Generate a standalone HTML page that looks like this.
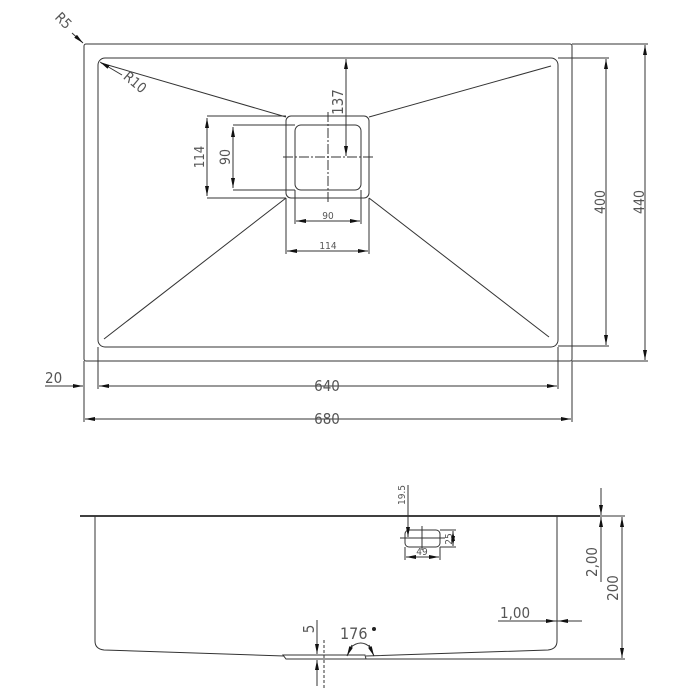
<!DOCTYPE html>
<html><head><meta charset="utf-8"><style>
html,body{margin:0;padding:0;background:#fff;}
svg{display:block;}
text{font-family:"DejaVu Sans Condensed","Liberation Sans Narrow","Liberation Sans",sans-serif;fill:#555;font-weight:200;}
</style></head><body>
<svg width="700" height="700" viewBox="0 0 700 700" xmlns="http://www.w3.org/2000/svg">
<defs>
<marker id="a" viewBox="0 0 10 4" refX="10" refY="2" markerWidth="10" markerHeight="4" markerUnits="userSpaceOnUse" orient="auto-start-reverse"><path d="M0,0L10,2L0,4z" fill="#111"/></marker>
</defs>
<g stroke="#333" stroke-width="1" fill="none">
<rect x="84" y="44" width="488" height="317" rx="2"/>
<rect x="98" y="58" width="460" height="289" rx="7"/>
<rect x="286" y="116" width="83" height="82" rx="5"/>
<rect x="295" y="125" width="66" height="65" rx="6"/>
<line x1="101" y1="63" x2="286" y2="117"/>
<line x1="551" y1="66" x2="369" y2="117"/>
<line x1="104" y1="339" x2="286" y2="198"/>
<line x1="549" y1="337" x2="369" y2="198"/>
<line x1="328" y1="112" x2="328" y2="202" stroke-dasharray="10,2,2,2"/>
<line x1="283" y1="157" x2="373" y2="157" stroke-dasharray="10,2,2,2"/>
<line x1="207" y1="116" x2="286" y2="116"/><line x1="207" y1="198" x2="286" y2="198"/>
<line x1="207" y1="118" x2="207" y2="196" marker-start="url(#a)" marker-end="url(#a)"/>
<line x1="233" y1="125" x2="295" y2="125"/><line x1="233" y1="190" x2="295" y2="190"/>
<line x1="233" y1="127" x2="233" y2="188" marker-start="url(#a)" marker-end="url(#a)"/>
<line x1="295" y1="190" x2="295" y2="224"/><line x1="361" y1="190" x2="361" y2="224"/>
<line x1="296" y1="221" x2="360" y2="221" marker-start="url(#a)" marker-end="url(#a)"/>
<line x1="286" y1="198" x2="286" y2="254"/><line x1="369" y1="198" x2="369" y2="254"/>
<line x1="287" y1="251" x2="368" y2="251" marker-start="url(#a)" marker-end="url(#a)"/>
<line x1="346" y1="59" x2="346" y2="156" marker-start="url(#a)" marker-end="url(#a)"/>
<line x1="558" y1="58" x2="609" y2="58"/><line x1="558" y1="346" x2="609" y2="346"/>
<line x1="606" y1="59" x2="606" y2="345" marker-start="url(#a)" marker-end="url(#a)"/>
<line x1="572" y1="44" x2="648" y2="44"/><line x1="572" y1="361" x2="648" y2="361"/>
<line x1="645" y1="45" x2="645" y2="360" marker-start="url(#a)" marker-end="url(#a)"/>
<line x1="84" y1="361" x2="84" y2="422"/><line x1="572" y1="361" x2="572" y2="422"/>
<line x1="98" y1="347" x2="98" y2="389"/><line x1="558" y1="347" x2="558" y2="389"/>
<line x1="99" y1="386" x2="557" y2="386" marker-start="url(#a)" marker-end="url(#a)"/>
<line x1="85" y1="419" x2="571" y2="419" marker-start="url(#a)" marker-end="url(#a)"/>
<line x1="45" y1="386" x2="83" y2="386" marker-end="url(#a)"/>
<line x1="72" y1="33" x2="83" y2="43" marker-end="url(#a)"/>
<line x1="122" y1="75" x2="100" y2="62" marker-end="url(#a)"/>
<line x1="80" y1="516" x2="600" y2="516" stroke="#000" stroke-width="1.5"/>
<path d="M95,516 V641 Q95,649 104,650 L284,656 M557,516 V641 Q557,649 548,650 L366,656"/>
<path d="M283,655 H365 L366,659 H286 Z"/>
<line x1="366" y1="659" x2="625" y2="659"/>
<line x1="600" y1="516" x2="625" y2="516"/>
<line x1="622" y1="517" x2="622" y2="658" marker-start="url(#a)" marker-end="url(#a)"/>
<line x1="601" y1="488" x2="601" y2="515" marker-end="url(#a)"/>
<line x1="601" y1="540" x2="601" y2="517" marker-end="url(#a)"/>
<line x1="601" y1="540" x2="601" y2="582"/>
<line x1="498" y1="621" x2="582" y2="621"/>
<line x1="543" y1="621" x2="556" y2="621" marker-end="url(#a)"/>
<line x1="572" y1="621" x2="558" y2="621" marker-end="url(#a)"/>
<rect x="405" y="530" width="35" height="17" rx="4"/>
<line x1="408" y1="485" x2="408" y2="537" marker-end="url(#a)"/>
<line x1="400" y1="538" x2="445" y2="538"/><line x1="422" y1="526" x2="422" y2="550"/>
<line x1="440" y1="530" x2="456" y2="530"/><line x1="440" y1="547" x2="456" y2="547"/>
<line x1="453" y1="531" x2="453" y2="546" marker-start="url(#a)" marker-end="url(#a)"/>
<line x1="405" y1="547" x2="405" y2="560"/><line x1="440" y1="547" x2="440" y2="560"/>
<line x1="406" y1="557" x2="439" y2="557" marker-start="url(#a)" marker-end="url(#a)"/>
<line x1="317" y1="620" x2="317" y2="654" marker-end="url(#a)"/>
<line x1="317" y1="686" x2="317" y2="660" marker-end="url(#a)"/>
<line x1="324" y1="640" x2="324" y2="690" stroke-dasharray="3,2"/>
<path d="M350,648 Q361,638 371,648"/>
<line x1="352" y1="645" x2="347" y2="656" marker-end="url(#a)"/>
<line x1="369" y1="645" x2="374" y2="656" marker-end="url(#a)"/>
</g>
<g font-size="13">
<text x="327" y="391" text-anchor="middle" font-size="15">640</text>
<text x="327" y="424" text-anchor="middle" font-size="15">680</text>
<text x="45" y="383" font-size="15">20</text>
<line x1="45" y1="386" x2="62" y2="386" stroke="#333"/>
<text transform="translate(204,157) rotate(-90)" text-anchor="middle">114</text>
<text transform="translate(230,157) rotate(-90)" text-anchor="middle" font-size="14">90</text>
<text x="328" y="219" text-anchor="middle" font-size="10">90</text>
<text x="328" y="249" text-anchor="middle" font-size="10">114</text>
<text transform="translate(343,102) rotate(-90)" text-anchor="middle" font-size="15">137</text>
<text transform="translate(605,202) rotate(-90)" text-anchor="middle" font-size="14">400</text>
<text transform="translate(644,202) rotate(-90)" text-anchor="middle" font-size="14">440</text>
<text transform="translate(60,24) rotate(45)" text-anchor="middle" font-size="14">R5</text>
<text transform="translate(132,86) rotate(40)" text-anchor="middle" font-size="14">R10</text>
<text transform="translate(405,495) rotate(-90)" text-anchor="middle" font-size="10">19.5</text>
<text transform="translate(452,539) rotate(-90)" text-anchor="middle" font-size="10">25</text>
<text x="422" y="555" text-anchor="middle" font-size="10">49</text>
<text transform="translate(597,562) rotate(-90)" text-anchor="middle" font-size="15">2,00</text>
<text transform="translate(618,588) rotate(-90)" text-anchor="middle" font-size="15">200</text>
<text x="500" y="618" font-size="15">1,00</text>
<text transform="translate(314,629) rotate(-90)" text-anchor="middle" font-size="15">5</text>
<text x="340" y="639" font-size="16">176</text>
<circle cx="374" cy="629" r="2" fill="#222"/>
</g>
</svg>
</body></html>
